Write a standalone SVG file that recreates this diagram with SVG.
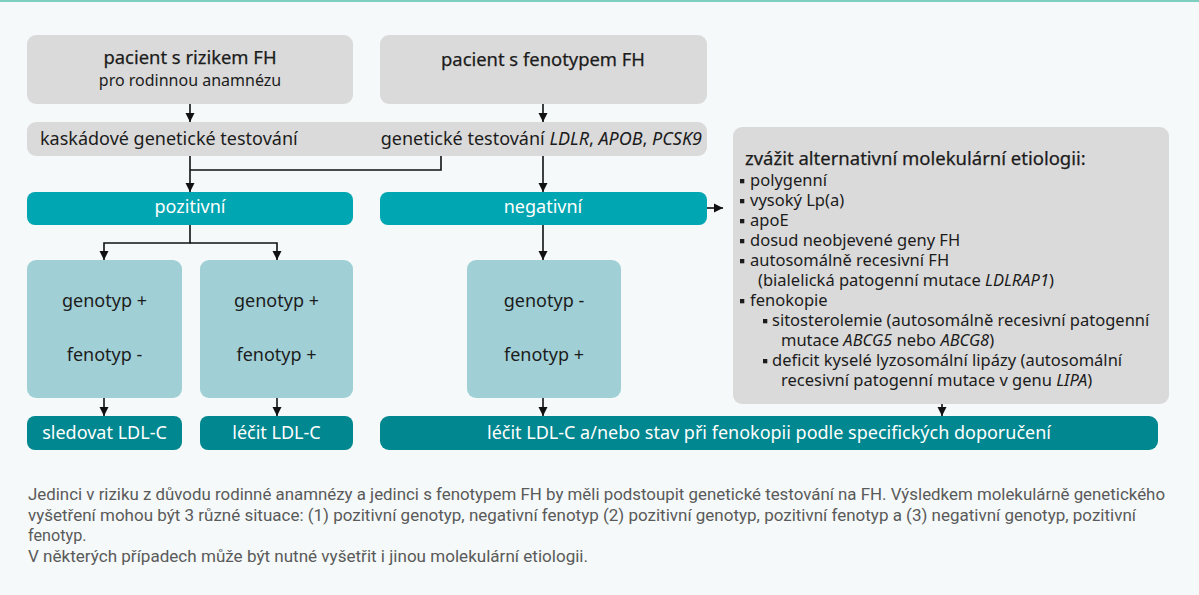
<svg xmlns="http://www.w3.org/2000/svg" width="1199" height="595" viewBox="0 0 1199 595">
<style>
.t{font-family:"Noto Sans","Open Sans","DejaVu Sans",sans-serif;fill:#1c1c1c}
.m{stroke:#1c1c1c;stroke-width:0.25}
.w{fill:#ffffff}
.gray{fill:#dadada}
.teal{fill:#00a6b1}
.light{fill:#a0d0d6}
.dark{fill:#00878f}
.cap{font-family:Roboto,"Liberation Sans",sans-serif;font-size:16.2px;fill:#5a5a5a}
.line{fill:none;stroke:#111;stroke-width:1.6}
.bul{fill:#1c1c1c}
</style>
<defs>
<marker id="ah" markerUnits="userSpaceOnUse" markerWidth="10" markerHeight="10" refX="9" refY="5" orient="auto" viewBox="0 0 10 10">
<path d="M0,0.5 L9,5 L0,9.5 z" fill="#111"/>
</marker>
</defs>
<rect width="1199" height="595" fill="#f5f9f9"/>
<rect width="1199" height="2" fill="#7fcfc0"/>

<g id="n-riziko">
<rect class="gray" x="27" y="35" width="326" height="69" rx="9"/>
<text class="t m" x="190" y="64" font-size="18.4" text-anchor="middle">pacient s rizikem FH</text>
<text class="t" x="190" y="86" font-size="16" text-anchor="middle">pro rodinnou anamnézu</text>
</g>
<g id="n-fenotyp">
<rect class="gray" x="380" y="35" width="327" height="69" rx="9"/>
<text class="t m" x="543" y="66" font-size="18.4" text-anchor="middle">pacient s fenotypem FH</text>
</g>
<g id="n-testovani">
<rect class="gray" x="27" y="122" width="680" height="34" rx="9"/>
<text class="t" x="40" y="145" font-size="18">kaskádové genetické testování</text>
<text class="t" x="702" y="145" font-size="18" text-anchor="end">genetické testování <tspan font-style="italic">LDLR</tspan>, <tspan font-style="italic">APOB</tspan>, <tspan font-style="italic">PCSK9</tspan></text>
</g>
<g id="n-pozitivni">
<rect class="teal" x="27" y="192" width="326" height="33" rx="8"/>
<text class="t w" x="190" y="213" font-size="18" text-anchor="middle">pozitivní</text>
</g>
<g id="n-negativni">
<rect class="teal" x="380" y="192" width="327" height="33" rx="8"/>
<text class="t w" x="543" y="213" font-size="18" text-anchor="middle">negativní</text>
</g>
<g id="n-gp-fm">
<rect class="light" x="27" y="260" width="155" height="138" rx="9"/>
<text class="t" x="104.5" y="307" font-size="18" text-anchor="middle">genotyp +</text>
<text class="t" x="104.5" y="361" font-size="18" text-anchor="middle">fenotyp -</text>
</g>
<g id="n-gp-fp">
<rect class="light" x="200" y="260" width="153" height="138" rx="9"/>
<text class="t" x="276.5" y="307" font-size="18" text-anchor="middle">genotyp +</text>
<text class="t" x="276.5" y="361" font-size="18" text-anchor="middle">fenotyp +</text>
</g>
<g id="n-gm-fp">
<rect class="light" x="467" y="260" width="154" height="138" rx="9"/>
<text class="t" x="544" y="307" font-size="18" text-anchor="middle">genotyp -</text>
<text class="t" x="544" y="361" font-size="18" text-anchor="middle">fenotyp +</text>
</g>
<g id="n-sledovat">
<rect class="dark" x="27" y="416" width="155" height="34" rx="8"/>
<text class="t w" x="104.5" y="439" font-size="18" text-anchor="middle">sledovat LDL-C</text>
</g>
<g id="n-lecit">
<rect class="dark" x="200" y="416" width="153" height="34" rx="8"/>
<text class="t w" x="276.5" y="439" font-size="18" text-anchor="middle">léčit LDL-C</text>
</g>
<g id="n-lecit-stav">
<rect class="dark" x="380" y="416" width="778" height="34" rx="9"/>
<text class="t w" x="769" y="439" font-size="18" text-anchor="middle">léčit LDL-C a/nebo stav při fenokopii podle specifických doporučení</text>
</g>
<g id="n-alternativni">
<rect class="gray" x="733" y="127" width="436" height="277" rx="9"/>
<text class="t m" x="745" y="165" font-size="18.5">zvážit alternativní molekulární etiologii:</text>
<g font-size="16.5">
<rect class="bul" x="740" y="179" width="4.3" height="4.3"/>
<text class="t" x="750" y="186">polygenní</text>
<rect class="bul" x="740" y="199" width="4.3" height="4.3"/>
<text class="t" x="750" y="206">vysoký Lp(a)</text>
<rect class="bul" x="740" y="219" width="4.3" height="4.3"/>
<text class="t" x="750" y="226">apoE</text>
<rect class="bul" x="740" y="239" width="4.3" height="4.3"/>
<text class="t" x="750" y="246">dosud neobjevené geny FH</text>
<rect class="bul" x="740" y="259" width="4.3" height="4.3"/>
<text class="t" x="750" y="266">autosomálně recesivní FH</text>
<text class="t" x="758" y="286">(bialelická patogenní mutace <tspan font-style="italic">LDLRAP1</tspan>)</text>
<rect class="bul" x="740" y="299" width="4.3" height="4.3"/>
<text class="t" x="750" y="306">fenokopie</text>
<rect class="bul" x="763" y="319" width="4.3" height="4.3"/>
<text class="t" x="772" y="326">sitosterolemie (autosomálně recesivní patogenní</text>
<text class="t" x="781" y="346">mutace <tspan font-style="italic">ABCG5</tspan> nebo <tspan font-style="italic">ABCG8</tspan>)</text>
<rect class="bul" x="763" y="359" width="4.3" height="4.3"/>
<text class="t" x="772" y="366">deficit kyselé lyzosomální lipázy (autosomální</text>
<text class="t" x="781" y="386">recesivní patogenní mutace v genu <tspan font-style="italic">LIPA</tspan>)</text>
</g>
</g>

<g id="connectors">
<line class="line" x1="190" y1="104" x2="190" y2="122" marker-end="url(#ah)"/>
<line class="line" x1="543" y1="104" x2="543" y2="122" marker-end="url(#ah)"/>
<line class="line" x1="190" y1="156" x2="190" y2="192" marker-end="url(#ah)"/>
<polyline class="line" points="441,156 441,170 190,170"/>
<line class="line" x1="543" y1="156" x2="543" y2="192" marker-end="url(#ah)"/>
<line class="line" x1="707" y1="208" x2="723" y2="208" marker-end="url(#ah)"/>
<polyline class="line" points="190,225 190,243 104,243 104,260" marker-end="url(#ah)"/>
<polyline class="line" points="190,243 277,243 277,260" marker-end="url(#ah)"/>
<line class="line" x1="543" y1="225" x2="543" y2="260" marker-end="url(#ah)"/>
<line class="line" x1="104" y1="398" x2="104" y2="416" marker-end="url(#ah)"/>
<line class="line" x1="277" y1="398" x2="277" y2="416" marker-end="url(#ah)"/>
<line class="line" x1="543" y1="398" x2="543" y2="416" marker-end="url(#ah)"/>
<line class="line" x1="942" y1="404" x2="942" y2="416" marker-end="url(#ah)"/>
</g>

<g id="caption">
<text class="cap" x="28" y="500" textLength="1137" lengthAdjust="spacingAndGlyphs">Jedinci v riziku z důvodu rodinné anamnézy a jedinci s fenotypem FH by měli podstoupit genetické testování na FH. Výsledkem molekulárně genetického</text>
<text class="cap" x="28" y="520.5" textLength="1108" lengthAdjust="spacingAndGlyphs">vyšetření mohou být 3 různé situace: (1) pozitivní genotyp, negativní fenotyp (2) pozitivní genotyp, pozitivní fenotyp a (3) negativní genotyp, pozitivní</text>
<text class="cap" x="28" y="541">fenotyp.</text>
<text class="cap" x="28" y="561.5" textLength="560" lengthAdjust="spacingAndGlyphs">V některých případech může být nutné vyšetřit i jinou molekulární etiologii.</text>
</g>
</svg>
